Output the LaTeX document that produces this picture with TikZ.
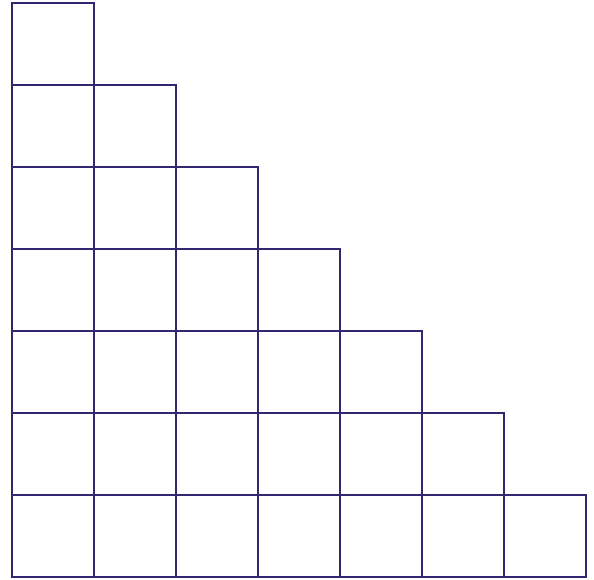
\documentclass[tikz,border=0pt]{standalone}
\usepackage{tikz}
\definecolor{gridPurple}{RGB}{52,38,108}
\tikzset{cell/.style={draw=gridPurple, line width=1.8pt, line join=miter}}

\begin{document}
\begin{tikzpicture}[x=82pt, y=82pt]
    % fixed frame: 594 x 580
    \useasboundingbox (-12pt, -3pt) rectangle (582pt, 577pt);
    % staircase: row r (from the bottom) holds 7-r squares
    \foreach \r in {0,...,6} {
      \pgfmathtruncatemacro{\last}{6-\r}
      \foreach \c in {0,...,\last} {
        \draw[cell] (\c, \r) rectangle ++(1, 1);
      }
    }
  \end{tikzpicture}
\end{document}
